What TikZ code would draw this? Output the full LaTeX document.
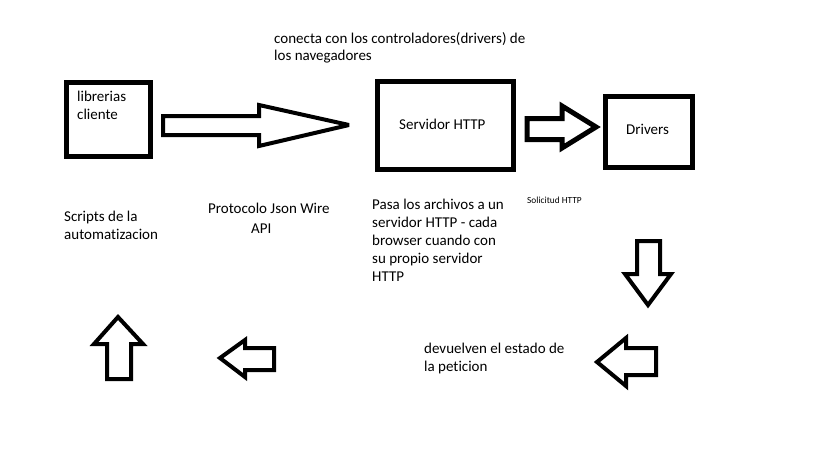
\documentclass[tikz,border=0pt]{standalone}
\usepackage{fontspec}
\setmainfont{Carlito}[Ligatures={NoCommon}]
\begin{document}
\begin{tikzpicture}[x=1pt,y=-1pt,
  box/.style={draw=black,line width=5pt,line join=miter},
  blockarrow/.style={draw=black,line width=4pt,line join=miter,miter limit=4,fill=white},
  lbl/.style={inner sep=0pt,anchor=base west,align=left,font=\fontsize{15}{17.8}\selectfont,text=black},
  small/.style={inner sep=0pt,anchor=base west,font=\fontsize{9.33}{11}\selectfont,text=black}]
\useasboundingbox[fill=white] (0,0) rectangle (819,460);

% boxes
\draw[box] (66.5,82.5) rectangle (150.5,156.5);
\draw[box] (377.5,81.5) rectangle (513.5,169.5);
\draw[box] (605.5,96.5) rectangle (692.5,167.5);

% block arrows
\draw[blockarrow] (163,116) -- (259,116) -- (259,105) -- (349,125) -- (259,146) -- (259,135) -- (163,135) -- cycle;
\draw[blockarrow,line width=5pt] (527,118.5) -- (562,118.5) -- (562,106) -- (596,127) -- (562,148) -- (562,139.5) -- (527,139.5) -- cycle;
\draw[blockarrow] (637,241) -- (660,241) -- (660,274) -- (671,274) -- (648,305) -- (625,274) -- (637,274) -- cycle;
\draw[blockarrow] (656,348) -- (626,348) -- (626,338) -- (597,362) -- (626,386) -- (626,375) -- (656,375) -- cycle;
\draw[blockarrow] (107,379) -- (131,379) -- (131,344) -- (143,344) -- (118,317) -- (94,344) -- (107,344) -- cycle;
\draw[blockarrow] (274,348) -- (245,348) -- (245,340) -- (220,358) -- (245,377) -- (245,370) -- (274,370) -- cycle;

% texts (multi-line nodes: base = baseline of last line)
\node[lbl] (conecta) at (274,61) {conecta con los controladores(drivers) de\\los navegadores};
\node[lbl] (libs) at (77,119) {librerias\\cliente};
\node[lbl] (servidor) at (399,129) {Servidor HTTP};
\node[lbl] (drivers) at (626,134) {Drivers};
\node[lbl] (scripts) at (64,239) {Scripts de la\\automatizacion};
\node[lbl] (proto) at (208,213) {Protocolo Json Wire};
\node[lbl] (api) at (251,233) {API};
\node[lbl] (pasa) at (372,281) {Pasa los archivos a un\\servidor HTTP - cada\\browser cuando con\\su propio servidor\\HTTP};
\node[small] (solicitud) at (527,203) {Solicitud HTTP};
\node[lbl] (devuelven) at (424,371) {devuelven el estado de\\la peticion};
\end{tikzpicture}
\end{document}
